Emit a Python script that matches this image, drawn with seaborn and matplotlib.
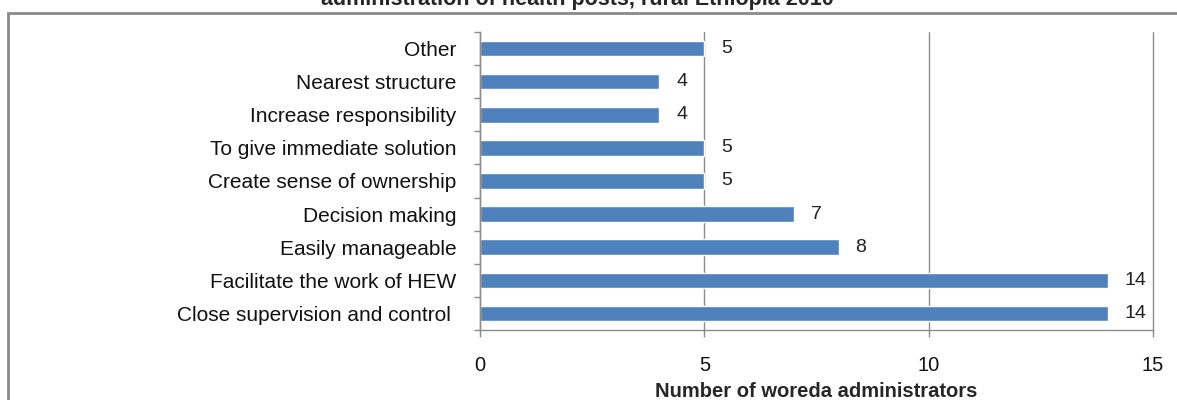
import matplotlib
matplotlib.use("Agg")
import matplotlib.pyplot as plt
import seaborn as sns
import pandas as pd
from matplotlib.patches import Rectangle

# reasons given by woreda administrators (top to bottom as in the chart)
reasons = [
    "Other",
    "Nearest structure",
    "Increase responsibility",
    "To give immediate solution",
    "Create sense of ownership",
    "Decision making",
    "Easily manageable",
    "Facilitate the work of HEW",
    "Close supervision and control ",
]
counts = [5, 4, 4, 5, 5, 7, 8, 14, 14]
x_ticks = [0, 5, 10, 15]

title = "administration of health posts, rural Ethiopia 2010"
x_label = "Number of woreda administrators"

df = pd.DataFrame({"reason": reasons, "count": counts})

sns.set_style("white")
plt.rcParams["font.family"] = ["Liberation Sans", "DejaVu Sans"]

fig = plt.figure(figsize=(11.77, 4.0), dpi=100)
ax = fig.add_axes([480 / 1177, 1 - 330 / 400, (1153 - 480) / 1177, (330 - 32) / 400])

sns.barplot(data=df, y="reason", x="count", orient="h", color="#4F81BD",
            width=0.47, saturation=1, ax=ax)

for c in ax.containers:
    labels = ax.bar_label(c, padding=12, fontsize=14, color="#222222")
    for t in labels:
        t.set_va("center")

ax.set_xlim(0, 15)
ax.set_ylim(len(reasons) - 0.5, -0.5)
ax.set_xticks(x_ticks)
ax.set_xticklabels([str(t) for t in x_ticks])
ax.set_ylabel("")
ax.set_xlabel(x_label, fontsize=14.5, fontweight="bold", labelpad=5)

ax.xaxis.grid(True, color="#8c8c8c", linewidth=1)
for g in ax.get_xgridlines():
    g.set_clip_on(False)
ax.yaxis.grid(False)
ax.set_axisbelow(True)

for s in ["top", "right"]:
    ax.spines[s].set_visible(False)
for s in ["left", "bottom"]:
    ax.spines[s].set_color("#8c8c8c")
    ax.spines[s].set_linewidth(1)

ax.set_yticks([i + 0.5 for i in range(-1, len(reasons))], minor=True)
ax.tick_params(axis="y", which="both", left=True)
ax.tick_params(axis="x", which="both", bottom=True)
ax.tick_params(axis="y", which="major", length=0, pad=17, labelsize=15, labelcolor="#111111")
ax.tick_params(axis="y", which="minor", length=4, width=1, color="#8c8c8c", direction="out")
ax.tick_params(axis="x", which="major", length=5, width=1, color="#8c8c8c", direction="out",
               pad=14, labelsize=14.5, labelcolor="#111111")

# outer chart frame (only top and left edges fall inside the image)
fig.patches.append(Rectangle((8 / 1177, -0.1), 1.2, 1 - 13 / 400 + 0.1,
                             transform=fig.transFigure, fill=False,
                             edgecolor="#8a8a8a", linewidth=2))

fig.text(577 / 1177, 1 - 4.5 / 400, title, ha="center", va="baseline",
         fontsize=15.5, fontweight="bold")

fig.savefig("out.png", dpi=100)
